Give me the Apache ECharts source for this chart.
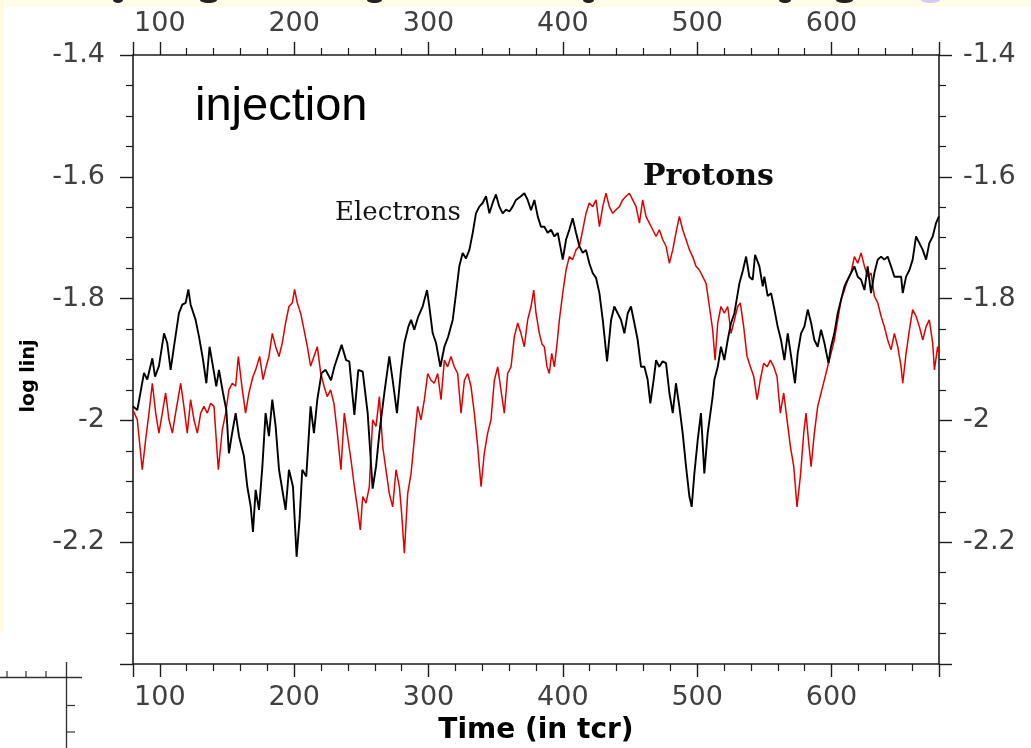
<!DOCTYPE html>
<html>
<head>
<meta charset="utf-8">
<script src="https://cdn.jsdelivr.net/npm/echarts@6/dist/echarts.min.js"></script>
<style>
  html, body { margin: 0; padding: 0; background: #ffffff; }
  #chart { width: 1031px; height: 748px; }
</style>
</head>
<body>
<div id="chart"></div>
<script>
// Injection rate (log) against time, electrons and protons
const electronTime = [80, 83.2, 88.2, 90.6, 94.4, 96.4, 99.3, 103.1, 105.5, 108.0, 110.5, 114.2, 116.7, 119.2, 121.2, 122.9, 126.6, 129.1, 132.1, 134.6,
  137.0, 139.5, 142.0, 144.0, 147.0, 149.5, 151.4, 153.4, 156.4, 158.9, 162.6, 165.1, 167.6, 169.3, 171.3, 173.8, 176.3, 178.7, 181.2, 183.7,
  186.2, 188.7, 191.6, 193.6, 196.1, 199.1, 201.8, 204.0, 206.0, 209.0, 212.2, 214.7, 217.2, 220.4, 223.4, 227.4, 229.9, 235.3, 238.6, 241.0,
  244.8, 247.7, 251.0, 254.7, 258.4, 260.9, 263.4, 267.1, 270.8, 273.3, 276.5, 279.5, 282.0, 285.0, 287.0, 289.4, 292.4, 295.6, 298.9, 300.6,
  303.1, 305.6, 308.8, 311.8, 314.7, 318.0, 320.5, 322.9, 325.4, 327.9, 330.4, 332.9, 335.3, 337.8, 340.3, 342.8, 345.3, 347.7, 350.2, 352.7,
  355.2, 357.7, 360.2, 362.6, 365.1, 368.8, 371.3, 373.8, 376.3, 378.8, 381.3, 383.7, 386.2, 388.7, 391.2, 393.7, 396.2, 398.6, 399.9, 402.4,
  404.8, 407.3, 409.8, 412.3, 414.8, 417.2, 419.7, 422.2, 424.7, 427.2, 429.7, 432.9, 435.9, 438.3, 440.8, 443.3, 445.8, 448.3, 450.7, 453.2,
  455.7, 458.2, 460.7, 463.1, 465.1, 467.6, 469.4, 471.8, 474.3, 476.8, 479.3, 481.8, 484.2, 486.7, 489.2, 491.7, 494.2, 495.9, 497.9, 500.4,
  502.8, 505.3, 507.8, 511.5, 512.8, 515.3, 517.7, 520.2, 522.7, 525.2, 527.7, 531.4, 534.1, 536.4, 538.8, 541.3, 543.1, 546.3, 548.8, 550.0,
  552.5, 555.0, 557.5, 559.9, 562.4, 564.9, 567.4, 569.9, 572.8, 574.8, 577.3, 579.8, 582.3, 584.8, 587.2, 589.7, 592.2, 594.7, 597.7, 599.6,
  602.1, 604.6, 607.1, 609.6, 612.0, 614.5, 617.0, 619.5, 622.0, 624.5, 626.9, 629.4, 631.9, 634.4, 636.9, 639.3, 641.8, 644.3, 646.8, 649.3,
  651.8, 653.0, 655.5, 658.0, 660.4, 662.9, 665.4, 667.9, 670.4, 672.8, 675.3, 677.8, 680];
const electronLog = [-1.977, -1.983, -1.922, -1.933, -1.898, -1.928, -1.911, -1.857, -1.873, -1.917, -1.879, -1.824, -1.810, -1.807, -1.785, -1.810, -1.835, -1.862, -1.900, -1.939,
  -1.879, -1.911, -1.944, -1.917, -1.955, -1.983, -2.054, -2.026, -1.988, -2.026, -2.059, -2.109, -2.141, -2.183, -2.114, -2.147, -2.076, -1.988, -2.026, -1.966,
  -2.010, -2.081, -2.120, -2.147, -2.081, -2.109, -2.224, -2.163, -2.081, -2.092, -1.977, -2.021, -1.966, -1.922, -1.917, -1.934, -1.912, -1.876, -1.901, -1.903,
  -1.991, -1.917, -1.920, -1.988, -2.112, -2.076, -2.021, -1.955, -1.895, -1.934, -1.988, -1.917, -1.873, -1.846, -1.835, -1.851, -1.829, -1.813, -1.786, -1.813,
  -1.857, -1.873, -1.912, -1.879, -1.862, -1.835, -1.791, -1.747, -1.725, -1.734, -1.720, -1.692, -1.660, -1.649, -1.643, -1.632, -1.660, -1.643, -1.629, -1.649,
  -1.660, -1.654, -1.657, -1.649, -1.638, -1.632, -1.627, -1.638, -1.655, -1.638, -1.665, -1.682, -1.682, -1.692, -1.687, -1.698, -1.692, -1.720, -1.736, -1.703,
  -1.687, -1.668, -1.692, -1.714, -1.725, -1.720, -1.742, -1.758, -1.766, -1.791, -1.835, -1.903, -1.835, -1.813, -1.824, -1.835, -1.857, -1.824, -1.813, -1.840,
  -1.868, -1.912, -1.912, -1.933, -1.972, -1.933, -1.901, -1.912, -1.903, -1.906, -1.955, -1.988, -1.939, -1.977, -2.021, -2.076, -2.125, -2.142, -2.087, -2.032,
  -1.988, -2.087, -2.021, -1.961, -1.933, -1.912, -1.879, -1.901, -1.868, -1.840, -1.824, -1.775, -1.753, -1.731, -1.764, -1.769, -1.728, -1.747, -1.780, -1.764,
  -1.796, -1.791, -1.818, -1.846, -1.868, -1.901, -1.857, -1.895, -1.939, -1.890, -1.857, -1.846, -1.818, -1.840, -1.868, -1.879, -1.851, -1.873, -1.906, -1.879,
  -1.857, -1.824, -1.802, -1.780, -1.769, -1.758, -1.747, -1.764, -1.769, -1.786, -1.747, -1.791, -1.758, -1.736, -1.731, -1.736, -1.731, -1.747, -1.764, -1.764,
  -1.764, -1.791, -1.764, -1.753, -1.736, -1.698, -1.709, -1.720, -1.736, -1.709, -1.698, -1.676, -1.665];

const protonTime = [80, 83.2, 86.9, 89.4, 91.9, 94.4, 96.9, 99.3, 101.8, 104.3, 106.8, 109.3, 111.7, 115.5, 117.9, 120.4, 122.9, 125.4, 127.9, 130.4,
  132.8, 135.3, 137.8, 140.3, 143.5, 146.5, 149.0, 151.4, 153.9, 156.4, 158.4, 161.4, 163.8, 166.3, 169.3, 171.3, 174.3, 176.8, 179.2, 181.2,
  183.7, 186.2, 188.7, 191.1, 193.6, 196.1, 198.6, 200.3, 202.3, 204.8, 207.3, 209.8, 212.2, 214.7, 217.2, 219.7, 222.2, 224.6, 227.1, 229.6,
  232.1, 234.8, 237.3, 239.8, 242.3, 244.8, 247.3, 249.2, 251.0, 253.5, 255.9, 258.4, 260.9, 263.4, 265.9, 268.3, 270.8, 273.3, 275.8, 278.3,
  280.0, 282.0, 284.5, 287.0, 289.4, 291.9, 294.4, 296.9, 299.4, 301.8, 304.3, 306.8, 309.3, 311.8, 314.2, 316.7, 319.2, 321.7, 324.2, 326.7,
  329.1, 331.6, 334.1, 336.6, 339.1, 341.5, 344.0, 346.5, 349.0, 351.5, 353.9, 356.4, 358.9, 361.4, 363.9, 366.4, 368.8, 371.3, 373.8, 376.3,
  378.3, 380.0, 382.5, 384.5, 386.2, 388.2, 389.9, 391.7, 393.7, 395.7, 397.4, 399.9, 402.4, 404.8, 407.3, 409.8, 412.3, 414.8, 417.2, 419.7,
  422.2, 424.7, 427.2, 429.7, 432.1, 434.6, 437.1, 439.6, 442.1, 444.5, 447.0, 449.5, 452.0, 454.5, 457.0, 459.4, 461.9, 464.4, 466.9, 469.4,
  471.8, 474.3, 476.8, 479.3, 481.8, 484.2, 486.7, 489.2, 491.7, 494.2, 496.6, 499.1, 501.6, 504.1, 506.6, 509.1, 511.5, 513.3, 515.3, 517.7,
  520.2, 522.7, 525.2, 527.7, 530.1, 532.1, 534.6, 537.1, 539.6, 542.1, 544.6, 547.0, 549.5, 552.0, 554.5, 557.0, 559.4, 561.9, 564.4, 566.9,
  569.4, 571.9, 574.3, 576.8, 579.3, 581.0, 582.8, 584.8, 587.2, 589.7, 592.2, 594.7, 597.2, 599.6, 602.1, 604.6, 607.1, 609.6, 612.0, 614.5,
  617.0, 619.5, 622.0, 624.5, 626.9, 629.4, 631.9, 634.4, 636.9, 639.3, 641.8, 644.3, 646.8, 649.3, 651.8, 653.0, 655.5, 658.0, 660.4, 662.9,
  665.4, 667.9, 670.4, 672.8, 675.3, 676.6, 679.0, 680];
const protonLog = [-1.983, -1.999, -2.081, -2.032, -1.988, -1.939, -1.988, -2.021, -1.988, -1.955, -1.999, -2.021, -1.988, -1.939, -1.977, -2.021, -1.966, -1.999, -2.021, -1.988,
  -1.977, -1.988, -1.972, -1.977, -2.081, -2.015, -1.988, -1.950, -1.939, -1.944, -1.895, -1.950, -1.988, -1.955, -1.928, -1.917, -1.895, -1.933, -1.911, -1.895,
  -1.857, -1.879, -1.895, -1.873, -1.840, -1.813, -1.807, -1.785, -1.807, -1.824, -1.851, -1.879, -1.911, -1.895, -1.879, -1.922, -1.944, -1.961, -1.950, -1.972,
  -2.021, -2.081, -1.988, -2.027, -2.065, -2.109, -2.147, -2.180, -2.125, -2.136, -2.109, -1.999, -2.010, -1.961, -2.043, -2.081, -2.120, -2.142, -2.081, -2.109,
  -2.153, -2.218, -2.120, -2.087, -2.032, -1.977, -1.999, -1.966, -1.923, -1.934, -1.939, -1.923, -1.966, -1.901, -1.912, -1.895, -1.912, -1.923, -1.988, -1.934,
  -1.923, -1.944, -1.988, -2.043, -2.109, -2.054, -2.021, -1.999, -1.934, -1.912, -1.950, -1.988, -1.923, -1.912, -1.862, -1.840, -1.857, -1.879, -1.835, -1.813,
  -1.786, -1.824, -1.857, -1.875, -1.879, -1.912, -1.923, -1.890, -1.912, -1.873, -1.835, -1.791, -1.753, -1.731, -1.736, -1.720, -1.714, -1.687, -1.660, -1.643,
  -1.649, -1.638, -1.682, -1.649, -1.627, -1.649, -1.660, -1.654, -1.649, -1.638, -1.632, -1.627, -1.638, -1.649, -1.676, -1.638, -1.665, -1.676, -1.687, -1.698,
  -1.687, -1.703, -1.714, -1.742, -1.720, -1.692, -1.665, -1.687, -1.703, -1.720, -1.731, -1.747, -1.753, -1.764, -1.775, -1.813, -1.851, -1.901, -1.840, -1.813,
  -1.824, -1.813, -1.857, -1.835, -1.813, -1.807, -1.846, -1.895, -1.912, -1.928, -1.966, -1.933, -1.906, -1.912, -1.901, -1.912, -1.928, -1.988, -1.955, -1.999,
  -2.043, -2.076, -2.142, -2.092, -2.021, -1.988, -2.032, -2.076, -2.021, -1.977, -1.955, -1.933, -1.911, -1.890, -1.868, -1.835, -1.802, -1.786, -1.769, -1.758,
  -1.731, -1.742, -1.725, -1.747, -1.764, -1.758, -1.796, -1.807, -1.829, -1.846, -1.868, -1.884, -1.857, -1.879, -1.912, -1.939, -1.890, -1.851, -1.818, -1.829,
  -1.846, -1.868, -1.846, -1.835, -1.873, -1.917, -1.879, -1.890];

// Labelled ticks on the time and log axes
const timeTicks = [100, 200, 300, 400, 500, 600];
const logTicks = [-1.4, -1.6, -1.8, -2, -2.2];

const toPairs = (ts, vs) => ts.map((t, i) => [t, vs[i]]);

const axisInk = '#1c1c1c';
const tickLabelStyle = { fontFamily: 'DejaVu Sans', fontSize: 27, color: '#404040' };

function timeAxis(position, margin, withName) {
  return {
    type: 'value', position: position, min: 80, max: 680,
    axisLine: { show: true, onZero: false, lineStyle: { color: axisInk, width: 1.6 } },
    axisTick: { show: true, inside: false, length: 13, lineStyle: { color: axisInk, width: 1.4 } },
    minorTick: { show: true, splitNumber: 5, length: 7, lineStyle: { color: axisInk, width: 1.2 } },
    splitLine: { show: false },
    axisLabel: Object.assign({
      margin: margin,
      formatter: v => timeTicks.includes(v) ? String(v) : ''
    }, tickLabelStyle),
    name: withName ? 'Time (in tcr)' : '',
    nameLocation: 'middle', nameGap: 53,
    nameTextStyle: { fontFamily: 'DejaVu Sans', fontWeight: 'bold', fontSize: 28, color: '#000' }
  };
}

function logAxis(position, margin) {
  return {
    type: 'value', position: position, min: -2.4, max: -1.4, interval: 0.2,
    axisLine: { show: true, onZero: false, lineStyle: { color: axisInk, width: 1.6 } },
    axisTick: { show: true, inside: false, length: 13, lineStyle: { color: axisInk, width: 1.4 } },
    minorTick: { show: true, splitNumber: 4, length: 7, lineStyle: { color: axisInk, width: 1.2 } },
    splitLine: { show: false },
    axisLabel: Object.assign({
      margin: margin,
      formatter: v => logTicks.some(t => Math.abs(t - v) < 1e-9) ? String(Math.round(v * 10) / 10) : ''
    }, tickLabelStyle)
  };
}

// clipped glyph bottoms along the top edge: [left, right, colour]
const topEdgeBits = [[113, 123, '#222'], [200, 217, '#222'], [367, 382, '#222'], [583, 594, '#222'],
  [779, 791, '#222'], [836, 853, '#222'], [921, 940, '#d9c9f2']];

const chart = echarts.init(document.getElementById('chart'), null, { renderer: 'canvas' });

const ink = '#333';
const edgeGraphics = topEdgeBits.map(([a, b, c]) => ({
  type: 'ellipse', z: 1, shape: { cx: (a + b) / 2, cy: 0, rx: (b - a) / 2, ry: 3 }, style: { fill: c }
}));

chart.setOption({
  animation: false,
  backgroundColor: '#ffffff',
  grid: { left: 133, right: 92, top: 55, bottom: 84, containLabel: false, outerBoundsMode: 'none' },
  xAxis: [timeAxis('bottom', 20, true), timeAxis('top', 18, false)],
  yAxis: [logAxis('left', 28), logAxis('right', 24)],
  series: [
    {
      name: 'Electrons', type: 'line', xAxisIndex: 0, yAxisIndex: 0,
      data: toPairs(electronTime, electronLog),
      showSymbol: false, symbol: 'none',
      lineStyle: { color: '#000000', width: 1.9 }, z: 3
    },
    {
      name: 'Protons', type: 'line', xAxisIndex: 0, yAxisIndex: 0,
      data: toPairs(protonTime, protonLog),
      showSymbol: false, symbol: 'none',
      lineStyle: { color: '#e00000', width: 1.5 }, z: 2
    }
  ],
  graphic: [
    // pale frame along the top and left edges
    { type: 'rect', z: 0, shape: { x: 0, y: 0, width: 1031, height: 7 }, style: { fill: '#fffdea' } },
    { type: 'rect', z: 0, shape: { x: 0, y: 0, width: 4, height: 632 }, style: { fill: '#fdfade' } },
    ...edgeGraphics,
    // vertical axis title
    { type: 'text', z: 10, x: 29, y: 376, rotation: Math.PI / 2,
      style: { x: 0, y: 0, text: 'log linj', fill: '#000', font: 'bold 19px "DejaVu Sans", sans-serif',
        textAlign: 'center', textVerticalAlign: 'middle' } },
    { type: 'text', z: 10, style: { x: 195, y: 107, text: 'injection', fill: '#000',
        font: '47px "Liberation Sans", Arial, sans-serif', textAlign: 'left', textVerticalAlign: 'middle' } },
    { type: 'text', z: 10, style: { x: 335, y: 213, text: 'Electrons', fill: '#141414',
        font: '26px "DejaVu Serif", serif', textAlign: 'left', textVerticalAlign: 'middle' } },
    { type: 'text', z: 10, style: { x: 643, y: 177, text: 'Protons', fill: '#0d0d0d',
        font: 'bold 30px "DejaVu Serif", serif', textAlign: 'left', textVerticalAlign: 'middle' } },
    // corner of a neighbouring panel, bottom left
    { type: 'line', shape: { x1: 0, y1: 677.5, x2: 82, y2: 677.5 }, style: { stroke: ink, lineWidth: 1.4 } },
    { type: 'line', shape: { x1: 66.5, y1: 662, x2: 66.5, y2: 748 }, style: { stroke: ink, lineWidth: 1.4 } },
    { type: 'line', shape: { x1: 7, y1: 671, x2: 7, y2: 677.5 }, style: { stroke: ink, lineWidth: 1.2 } },
    { type: 'line', shape: { x1: 26, y1: 671, x2: 26, y2: 677.5 }, style: { stroke: ink, lineWidth: 1.2 } },
    { type: 'line', shape: { x1: 46, y1: 671, x2: 46, y2: 677.5 }, style: { stroke: ink, lineWidth: 1.2 } },
    { type: 'line', shape: { x1: 66.5, y1: 705.5, x2: 75, y2: 705.5 }, style: { stroke: ink, lineWidth: 1.2 } },
    { type: 'line', shape: { x1: 66.5, y1: 732, x2: 75, y2: 732 }, style: { stroke: ink, lineWidth: 1.2 } }
  ]
});
</script>
</body>
</html>
